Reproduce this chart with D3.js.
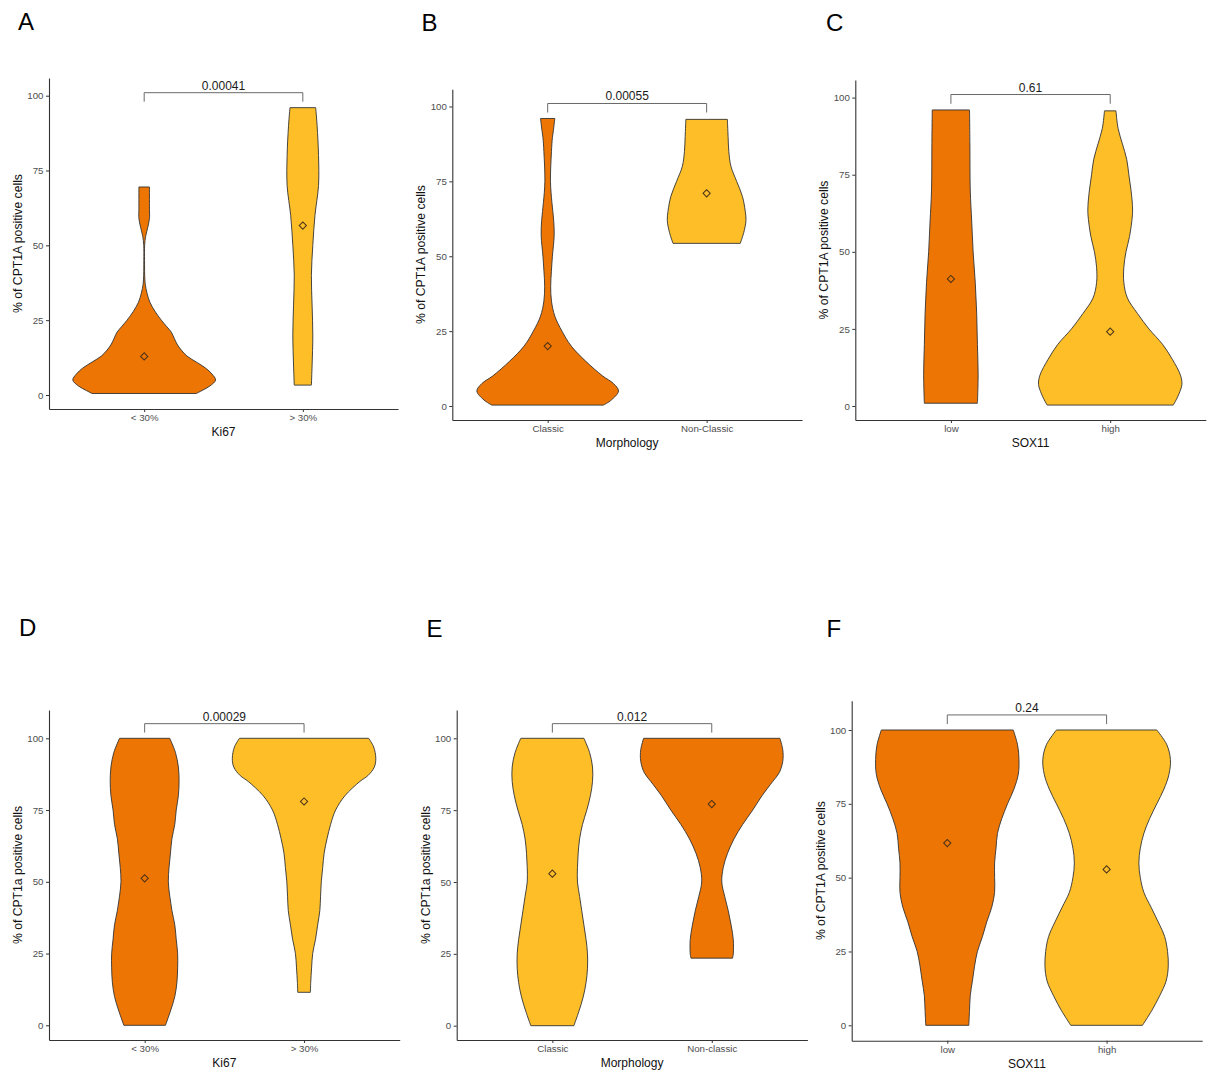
<!DOCTYPE html>
<html><head><meta charset="utf-8">
<script src="https://cdn.jsdelivr.net/npm/d3@7"></script>
<style>body{margin:0;background:#fff} svg{display:block}</style>
</head><body>
<svg id="chart" width="1209" height="1075"></svg>
<script>
// ---------------- DATA ----------------
const yTicks = [0, 25, 50, 75, 100];

const ki67Cats = ["< 30%", "> 30%"];
const morphCatsTop = ["Classic", "Non-Classic"];
const morphCatsBottom = ["Classic", "Non-classic"];
const sox11Cats = ["low", "high"];

const yTitleUpper = "% of CPT1A positive cells";
const yTitleLower = "% of CPT1a positive cells";

// violin profiles: [value, relative density (1 = widest violin of the panel)]
const violinA1 = [[0.5,0.73],[1.5,0.81],[3,0.92],[5,1.0],[7,0.95],[9,0.86],[11,0.73],[13,0.60],[15,0.52],[17,0.46],[19,0.42],[21,0.38],[23,0.31],[25,0.24],[28,0.15],[31,0.08],[34,0.04],[37,0.015],[40,0.007],[45,0.005],[50,0.006],[53,0.02],[56,0.05],[59,0.074],[62,0.074],[69.5,0.074]];
const violinA2 = [[3.3,0.12],[10,0.13],[20,0.14],[30,0.13],[40,0.12],[50,0.14],[60,0.17],[70,0.22],[80,0.22],[90,0.20],[96,0.18]];

const violinB1 = [[0.3,0.78],[2,0.89],[5,0.99],[7.5,0.92],[10,0.77],[15,0.53],[20,0.33],[25,0.20],[30,0.10],[35,0.053],[40,0.042],[45,0.052],[50,0.066],[57,0.091],[62,0.084],[68,0.059],[75,0.039],[85,0.053],[89.6,0.066],[92,0.08],[96,0.10]];
const violinB2 = [[54.3,0.47],[58,0.52],[62,0.55],[65,0.54],[70,0.50],[75,0.42],[80,0.34],[85,0.31],[90,0.30],[95.7,0.29]];

const violinC1 = [[0.9,0.37],[10,0.38],[20,0.37],[30,0.36],[40,0.34],[50,0.31],[60,0.29],[70,0.27],[85,0.265],[96,0.26]];
const violinC2 = [[0.3,0.88],[2,0.92],[4,0.96],[7,1.0],[10,0.98],[15,0.87],[20,0.73],[25,0.54],[30,0.38],[35,0.24],[40,0.19],[45,0.19],[50,0.22],[55,0.27],[62,0.31],[65,0.31],[70,0.29],[75,0.26],[80,0.23],[85,0.17],[90,0.11],[95.7,0.08]];

const violinD1 = [[0,0.29],[5,0.36],[10,0.42],[15,0.45],[20,0.46],[25,0.46],[30,0.44],[35,0.42],[40,0.38],[45,0.35],[50,0.33],[55,0.34],[60,0.36],[65,0.38],[70,0.42],[75,0.44],[80,0.47],[85,0.48],[90,0.47],[95,0.43],[100,0.35]];
const violinD2 = [[11.5,0.088],[15,0.093],[20,0.105],[25,0.12],[30,0.16],[35,0.19],[40,0.22],[45,0.23],[50,0.24],[55,0.26],[60,0.28],[65,0.32],[70,0.37],[75,0.44],[80,0.57],[85,0.78],[87,0.89],[90,0.98],[93,1.0],[97,0.97],[100,0.90]];

const violinE1 = [[0,0.30],[5,0.37],[10,0.43],[15,0.47],[20,0.49],[25,0.49],[30,0.47],[35,0.44],[40,0.41],[45,0.38],[50,0.35],[55,0.35],[60,0.36],[65,0.38],[70,0.42],[75,0.48],[80,0.53],[85,0.56],[90,0.56],[95,0.52],[100,0.44]];
const violinE2 = [[23.5,0.29],[25,0.30],[30,0.30],[35,0.27],[40,0.23],[45,0.18],[50,0.14],[55,0.16],[60,0.22],[65,0.31],[70,0.43],[75,0.57],[80,0.70],[85,0.85],[88,0.94],[92,0.99],[96,0.99],[100,0.95]];

const violinF1 = [[0,0.30],[5,0.31],[10,0.32],[15,0.35],[20,0.38],[25,0.42],[30,0.49],[35,0.55],[40,0.62],[45,0.66],[50,0.66],[55,0.66],[60,0.68],[65,0.70],[70,0.76],[75,0.84],[80,0.93],[85,0.99],[90,1.0],[95,0.98],[100,0.92]];
const violinF2 = [[0,0.50],[5,0.63],[10,0.74],[15,0.83],[20,0.86],[25,0.85],[30,0.81],[35,0.72],[40,0.62],[45,0.52],[50,0.47],[55,0.45],[60,0.47],[65,0.52],[70,0.60],[75,0.70],[80,0.80],[85,0.87],[90,0.89],[95,0.84],[100,0.70]];

const meansA = [12.9, 56.6];
const meansB = [20.0, 71.0];
const meansC = [41.2, 24.1];
const meansD = [51.2, 78.0];
const meansE = [52.9, 77.1];
const meansF = [61.7, 52.8];

const pValues = ["0.00041", "0.00055", "0.61", "0.00029", "0.012", "0.24"];
// bracket: [tip value, bar value]
const bracketsTop = [98, 101];
const bracketsBottom = [102, 105.1];

// ---------------- STYLE / LAYOUT ----------------
const ORANGE = "#ED7503";
const YELLOW = "#FDBE28";
const FONT = "'Liberation Sans', Arial, sans-serif";

const panels = [
  {id:"A", cats:ki67Cats, violins:[violinA1, violinA2], means:meansA, p:pValues[0], br:bracketsTop, xTitle:"Ki67", yTitle:yTitleUpper, fills:[ORANGE, YELLOW],
   box:{left:49, right:398, top:78, bottom:409, lo:-4.68, hi:105.91}, letter:[18, 30]},
  {id:"B", cats:morphCatsTop, violins:[violinB1, violinB2], means:meansB, p:pValues[1], br:bracketsTop, xTitle:"Morphology", yTitle:yTitleUpper, fills:[ORANGE, YELLOW],
   box:{left:452.3, right:802, top:89.3, bottom:420, lo:-4.67, hi:105.74}, letter:[421.5, 31]},
  {id:"C", cats:sox11Cats, violins:[violinC1, violinC2], means:meansC, p:pValues[2], br:bracketsTop, xTitle:"SOX11", yTitle:yTitleUpper, fills:[ORANGE, YELLOW],
   box:{left:855.3, right:1205.8, top:80, bottom:420, lo:-4.54, hi:105.71}, letter:[826, 31]},
  {id:"D", cats:ki67Cats, violins:[violinD1, violinD2], means:meansD, p:pValues[3], br:bracketsBottom, xTitle:"Ki67", yTitle:yTitleLower, fills:[ORANGE, YELLOW],
   box:{left:49, right:399.7, top:710, bottom:1040, lo:-5.12, hi:109.86}, letter:[19, 636]},
  {id:"E", cats:morphCatsBottom, violins:[violinE1, violinE2], means:meansE, p:pValues[4], br:bracketsBottom, xTitle:"Morphology", yTitle:yTitleLower, fills:[YELLOW, ORANGE],
   box:{left:456.7, right:807.4, top:710, bottom:1040, lo:-4.98, hi:109.85}, letter:[426.5, 637]},
  {id:"F", cats:sox11Cats, violins:[violinF1, violinF2], means:meansF, p:pValues[5], br:bracketsBottom, xTitle:"SOX11", yTitle:yTitleUpper, fills:[ORANGE, YELLOW],
   box:{left:851.7, right:1202.2, top:700.7, bottom:1040.7, lo:-5.21, hi:109.92}, letter:[826.5, 637]}
];

// ---------------- DRAW ----------------
const svg = d3.select("#chart");
svg.append("rect").attr("width", 1209).attr("height", 1075).attr("fill", "#fff");

panels.forEach(P => {
  const b = P.box;
  const g = svg.append("g");
  const y = d3.scaleLinear().domain([b.lo, b.hi]).range([b.bottom, b.top]);
  const x = d3.scalePoint().domain(P.cats).range([b.left, b.right]).padding(0.6);
  const w = d3.scaleLinear().domain([0, 1]).range([0, 0.45 * x.step()]);

  // violins
  P.violins.forEach((v, i) => {
    const cx = x(P.cats[i]);
    const pts = v.slice().sort((a, c) => c[0] - a[0]);
    const area = d3.area()
      .y(d => y(d[0]))
      .x0(d => cx - w(d[1]))
      .x1(d => cx + w(d[1]))
      .curve(d3.curveCatmullRom.alpha(0.5));
    g.append("path").attr("d", area(pts))
      .attr("fill", P.fills[i]).attr("stroke", "#333").attr("stroke-width", 0.9)
      .attr("stroke-linejoin", "round");
  });

  // means (open diamonds)
  const diamond = d3.symbol(d3.symbolSquare, 26);
  P.means.forEach((m, i) => {
    g.append("path").attr("d", diamond())
      .attr("transform", `translate(${x(P.cats[i])},${y(m)}) rotate(45)`)
      .attr("fill", "none").attr("stroke", "#4a3218").attr("stroke-width", 1);
  });

  // bracket
  const x1 = x(P.cats[0]), x2 = x(P.cats[1]);
  g.append("path")
    .attr("d", `M${x1},${y(P.br[0])}V${y(P.br[1])}H${x2}V${y(P.br[0])}`)
    .attr("fill", "none").attr("stroke", "#6a6a6a").attr("stroke-width", 1);
  g.append("text").attr("x", (x1 + x2) / 2).attr("y", y(P.br[1]) - 3)
    .attr("text-anchor", "middle").attr("font-family", FONT).attr("font-size", 12)
    .attr("fill", "#1a1a1a").text(P.p);

  // axes
  const ya = g.append("g").attr("transform", `translate(${b.left},0)`)
    .call(d3.axisLeft(y).tickValues(yTicks).tickSize(3).tickPadding(2.5).tickSizeOuter(0));
  const xa = g.append("g").attr("transform", `translate(0,${b.bottom})`)
    .call(d3.axisBottom(x).tickSize(3).tickPadding(2.5).tickSizeOuter(0));
  [ya, xa].forEach(a => {
    a.select(".domain").attr("stroke", "#333").attr("stroke-width", 1.1);
    a.selectAll(".tick line").attr("stroke", "#333").attr("stroke-width", 1);
    a.selectAll(".tick text").attr("fill", "#4d4d4d").attr("font-family", FONT).attr("font-size", 9.7);
  });

  // axis titles
  g.append("text").attr("x", (b.left + b.right) / 2).attr("y", b.bottom + 27)
    .attr("text-anchor", "middle").attr("font-family", FONT).attr("font-size", 12)
    .attr("fill", "#111").text(P.xTitle);
  g.append("text")
    .attr("transform", `translate(${b.left - 27},${(b.top + b.bottom) / 2}) rotate(-90)`)
    .attr("text-anchor", "middle").attr("font-family", FONT).attr("font-size", 12.2)
    .attr("fill", "#111").text(P.yTitle);

  // panel letter
  svg.append("text").attr("x", P.letter[0]).attr("y", P.letter[1])
    .attr("font-family", FONT).attr("font-size", 24).attr("fill", "#000").text(P.id);
});
</script>
</body></html>
